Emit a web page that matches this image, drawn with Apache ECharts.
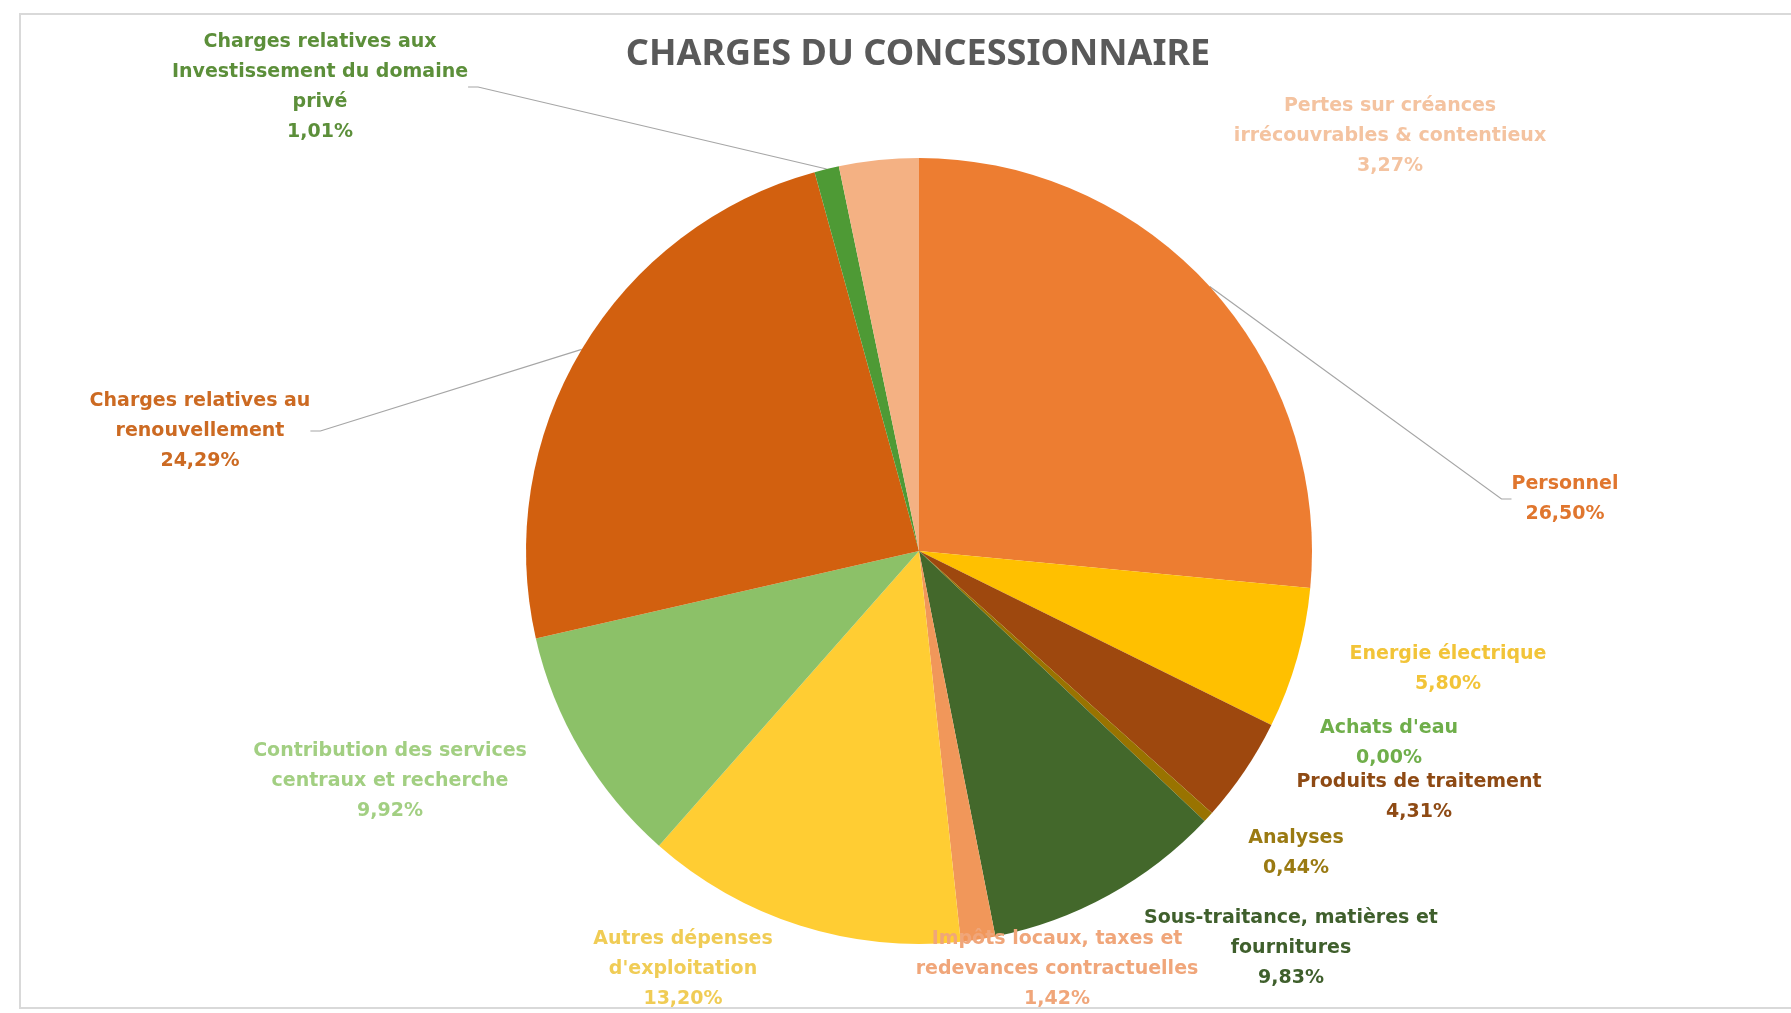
<!DOCTYPE html>
<html lang="fr">
<head>
    <meta charset="utf-8">
    <title>Charges du concessionnaire</title>
    <script src="https://cdn.jsdelivr.net/npm/echarts@6/dist/echarts.min.js"></script>
    <style>
        html, body { margin: 0; padding: 0; background: #fff; }
        #pie_charges { width: 1791px; height: 1013px; }
    </style>
</head>
<body>
<div id="pie_charges"></div>

<script>
    // postes de charges, dans l'ordre horaire depuis midi
    let categories = ['Personnel', 'Energie électrique', "Achats d'eau", 'Produits de traitement', 'Analyses',
        'Sous-traitance, matières et fournitures', 'Impôts locaux, taxes et redevances contractuelles',
        "Autres dépenses d'exploitation", 'Contribution des services centraux et recherche',
        'Charges relatives au renouvellement', 'Charges relatives aux Investissement du domaine privé',
        'Pertes sur créances irrécouvrables & contentieux'];
    // libellés tels qu'affichés (avec retours à la ligne)
    let labelNames = ['Personnel', 'Energie électrique', "Achats d'eau", 'Produits de traitement', 'Analyses',
        'Sous-traitance, matières et\nfournitures', 'Impôts locaux, taxes et\nredevances contractuelles',
        "Autres dépenses\nd'exploitation", 'Contribution des services\ncentraux et recherche',
        'Charges relatives au\nrenouvellement', 'Charges relatives aux\nInvestissement du domaine\nprivé',
        'Pertes sur créances\nirrécouvrables & contentieux'];
    let values = [26.50, 5.80, 0.00, 4.31, 0.44, 9.83, 1.42, 13.20, 9.92, 24.29, 1.01, 3.27];

    let colors = ['#ED7D31', '#FFC000', '#70AD47', '#9E480E', '#997300', '#43682B',
        '#F1975A', '#FFCD33', '#8CC168', '#D2600F', '#4E9A35', '#F4B183'];
    let labelColors = ['#E0762E', '#F2C438', '#6FAE4A', '#8E4A14', '#9A7A12', '#3F5F2C',
        '#F0A67A', '#F0CC55', '#A2CF82', '#CC6A22', '#5C8F3A', '#F4C3A0'];
    let withLine = [true, false, false, false, false, false, false, false, false, true, true, false];

    // emplacement des étiquettes (centre du bloc de texte)
    let labelPos = [[1565, 499], [1448, 669], [1389, 743], [1419, 797], [1296, 853], [1291, 948],
        [1057, 969], [683, 969], [390, 781], [200, 431], [320, 87], [1390, 136]];

    let myChart = echarts.init(document.getElementById('pie_charges'));

    let pieData = [];
    for (let i = 0; i < categories.length; i++) {
        pieData.push({
            name: categories[i],
            value: values[i],
            itemStyle: {color: colors[i]},
            label: {color: labelColors[i]},
            labelLine: {show: withLine[i]}
        });
    }

    let option = {
        animation: false,
        backgroundColor: '#fff',
        graphic: [
            {
                type: 'rect',
                shape: {x: 20, y: 14, width: 1800, height: 994},
                style: {fill: 'none', stroke: '#D9D9D9', lineWidth: 2},
                silent: true
            },
            {
                // titre centré au-dessus du camembert
                type: 'text',
                x: 918,
                y: 55,
                style: {
                    text: 'CHARGES DU CONCESSIONNAIRE',
                    align: 'center',
                    verticalAlign: 'middle',
                    fontFamily: 'Noto Sans',
                    fontSize: 36,
                    fontWeight: 'bold',
                    fill: '#595959'
                },
                silent: true
            }
        ],
        series: [{
            type: 'pie',
            center: [919, 551],
            radius: 393,
            startAngle: 90,
            clockwise: true,
            avoidLabelOverlap: false,
            itemStyle: {borderWidth: 0},
            label: {
                show: true,
                position: 'outside',
                fontFamily: 'DejaVu Sans',
                fontSize: 19,
                fontWeight: 'bold',
                lineHeight: 30,
                align: 'center',
                formatter: function (p) {
                    return labelNames[p.dataIndex] + '\n' + p.value.toFixed(2).replace('.', ',') + '%';
                }
            },
            labelLine: {
                show: true,
                smooth: false,
                length: 10,
                length2: 10,
                lineStyle: {color: '#A6A6A6', width: 1.2}
            },
            labelLayout: function (params) {
                let pos = labelPos[params.dataIndex];
                return {
                    x: pos[0],
                    y: pos[1],
                    align: 'center',
                    verticalAlign: 'middle'
                };
            },
            data: pieData
        }]
    };
    myChart.setOption(option);
</script>
</body>
</html>
